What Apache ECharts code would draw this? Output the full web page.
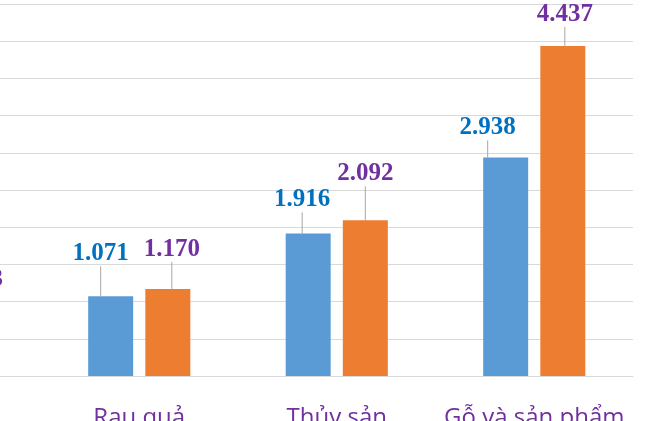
<!DOCTYPE html>
<html><head><meta charset="utf-8">
<script src="https://cdn.jsdelivr.net/npm/echarts@6/dist/echarts.min.js"></script>
<style>html,body{margin:0;padding:0;background:#fff;overflow:hidden}#c{width:655px;height:421px}</style>
</head><body><div id="c"></div>
<script>
// ---- data ----
const categories = ['', 'Rau quả', 'Thủy sản', 'Gỗ và sản phẩm\ngỗ'];
const seriesBlue = [null, 1071, 1916, 2938];
const seriesOrange = [813, 1170, 2092, 4437];
const yMin = 0, yMax = 5000, yInterval = 500;

// ---- styles ----
const labelShift = [
  [[0, 0], [-10, -25], [-6, -16], [-18, -12]],
  [[14, -18], [4, -22], [0, -29], [2, -14]]
];
function fmt(v) { return String(v).replace(/\B(?=(\d{3})+(?!\d))/g, '.'); }

const chart = echarts.init(document.getElementById('c'), null, {renderer: 'canvas'});
const labelFont = {fontFamily: '"Liberation Serif", "Times New Roman", serif', fontWeight: 'bold', fontSize: 25};
function mkSeries(name, data, barColor, labelColor) {
  return {
    name: name, type: 'bar', data: data, barWidth: 45, barGap: '27%',
    itemStyle: {color: barColor},
    label: Object.assign({show: true, position: 'top', distance: 5, color: labelColor,
      formatter: p => fmt(p.value)}, labelFont),
    labelLine: {show: true, lineStyle: {color: '#A6A6A6', width: 1}},
    labelLayout: function (p) {
      const s = labelShift[p.seriesIndex][p.dataIndex];
      return {dx: s[0], dy: s[1]};
    },
    emphasis: {disabled: true}
  };
}
chart.setOption({
  animation: false,
  grid: {left: -157, right: 22, top: 4, bottom: 45, containLabel: false, outerBoundsMode: 'none'},
  xAxis: {
    type: 'category', data: categories,
    axisLine: {show: true, lineStyle: {color: '#D9D9D9', width: 1}},
    axisTick: {show: false},
    axisLabel: {interval: 0, color: '#7030A0', fontFamily: '"Open Sans", sans-serif', fontSize: 24, margin: 30}
  },
  yAxis: {
    type: 'value', min: yMin, max: yMax, interval: yInterval,
    axisLabel: {show: false}, axisLine: {show: false}, axisTick: {show: false},
    splitLine: {lineStyle: {color: '#D9D9D9', width: 1}}
  },
  series: [
    mkSeries('Series 1', seriesBlue, '#5B9BD5', '#0070C0'),
    mkSeries('Series 2', seriesOrange, '#ED7D31', '#7030A0')
  ],
  graphic: [{type: 'line', left: 653, top: 0, shape: {x1: 0, y1: 0, x2: 0, y2: 421},
    style: {stroke: '#D9D9D9', lineWidth: 1}}]
});
</script></body></html>
